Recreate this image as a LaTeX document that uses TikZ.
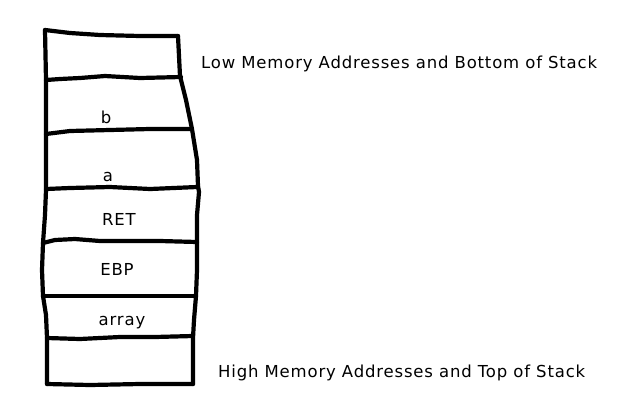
\documentclass[tikz,border=0pt]{standalone}
\usepackage{fontspec}
\setmainfont{DejaVu Sans}[LetterSpace=5]
\begin{document}
\begin{tikzpicture}[x=1pt,y=-1pt,
  pen/.style={line width=4.2pt,line cap=round,line join=round,black},
  lbl/.style={font=\fontsize{16.5}{19}\selectfont,inner sep=0pt,anchor=base}]
\useasboundingbox[fill=white] (0,0) rectangle (640,400);
% left edge
\draw[pen] (45,30) -- (46,80) -- (46,140) -- (46,190) -- (45,215) -- (43,243) -- (42,270) -- (43,296) -- (46,315) -- (47,338) -- (47,384);
% top line
\draw[pen] (45,30) -- (70,33) -- (100,35) -- (140,36) -- (178,36);
% right edge
\draw[pen] (178,36) -- (180,76) -- (186,100) -- (192,129) -- (197,160) -- (198,186) -- (199,192) -- (197,215) -- (197,242) -- (197,270) -- (196,296) -- (194,320) -- (193,338) -- (193,384);
% horizontal lines
\draw[pen] (46,80) -- (60,79) -- (80,78) -- (105,76) -- (140,78) -- (181,77);
\draw[pen] (46,134) -- (70,131) -- (110,130) -- (150,129) -- (191,129);
\draw[pen] (46,189) -- (70,188) -- (110,187) -- (150,189) -- (197,187);
\draw[pen] (43,243) -- (55,240) -- (75,239) -- (100,241) -- (130,241) -- (160,241) -- (197,242);
\draw[pen] (43,296) -- (80,296) -- (130,296) -- (196,296);
\draw[pen] (47,338) -- (80,339) -- (120,337) -- (155,337) -- (193,336);
\draw[pen] (47,384) -- (90,385) -- (140,384) -- (193,384);
% labels
\node[lbl] (b) at (106,123) {b};
\node[lbl] (a) at (108,181) {a};
\node[lbl] (ret) at (119,225) {RET};
\node[lbl] (ebp) at (117,275) {EBP};
\node[lbl] (arr) at (122,325) {array};
\node[lbl,anchor=base west] (low) at (201,68) {Low Memory Addresses and Bottom of Stack};
\node[lbl,anchor=base west] (high) at (218,377) {High Memory Addresses and Top of Stack};
\end{tikzpicture}
\end{document}
